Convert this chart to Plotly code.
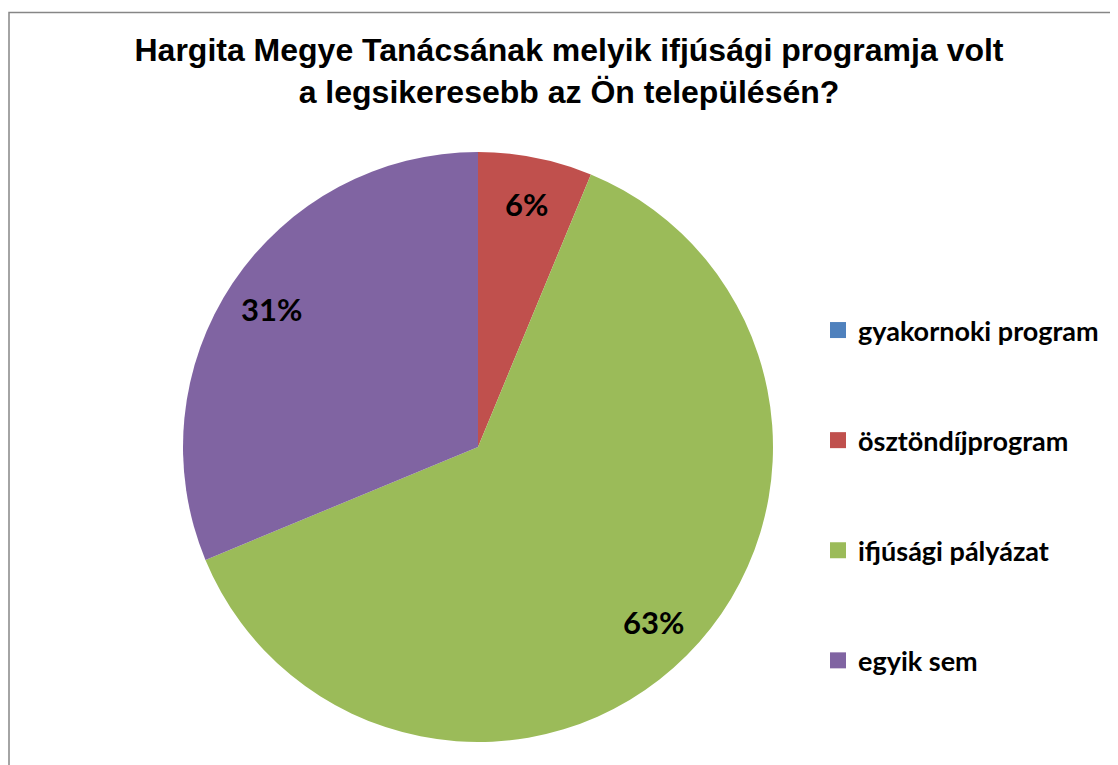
import math
import plotly.graph_objects as go

categories = ["gyakornoki program", "ösztöndíjprogram", "ifjúsági pályázat", "egyik sem"]
counts = [0, 2, 20, 10]
colors = ["#4F81BD", "#C0504D", "#9BBB59", "#8064A2"]
title_lines = ["Hargita Megye Tanácsának melyik ifjúsági programja volt",
               "a legsikeresebb az Ön településén?"]

# figure size (page body adds an 8px margin)
W, H = 1110, 757
# pie placement in pixels within figure
cx, cy, R = 470, 439, 295
label_r = 0.84  # radial position of percent labels as fraction of radius

fig = go.Figure()
fig.add_trace(go.Pie(
    labels=categories, values=counts, sort=False, direction="clockwise", rotation=0,
    marker=dict(colors=colors, line=dict(width=0)),
    textinfo="none",
    showlegend=False, hoverinfo="label+percent",
    domain=dict(x=[(cx - R) / W, (cx + R) / W], y=[1 - (cy + R) / H, 1 - (cy - R) / H]),
))
for c, col in zip(categories, colors):
    fig.add_trace(go.Scatter(
        x=[None], y=[None], mode="markers", name=c, legendgroup=c,
        marker=dict(symbol="square", size=16, color=col),
        showlegend=True, hoverinfo="skip",
    ))

# percent labels at slice mid-angles (Excel style)
total = sum(counts)
annotations = []
cum = 0.0
for v in counts:
    frac = v / total
    if v > 0:
        mid = (cum + frac / 2) * 2 * math.pi
        px = cx + label_r * R * math.sin(mid)
        py = cy - label_r * R * math.cos(mid)
        annotations.append(dict(
            x=px / W, y=1 - py / H, xref="paper", yref="paper",
            text=f"{math.floor(frac * 100 + 0.5)}%", showarrow=False,
            xanchor="center", yanchor="middle",
            font=dict(family="Lato", size=31, color="black", weight="bold"),
        ))
    cum += frac

fig.update_layout(
    width=W, height=H,
    margin=dict(l=0, r=0, t=0, b=0),
    paper_bgcolor="white", plot_bgcolor="white",
    xaxis=dict(visible=False), yaxis=dict(visible=False),
    title=dict(text="<br>".join(title_lines), x=561 / W, xanchor="center",
               y=1 - 53 / H, yanchor="middle", yref="container",
               font=dict(family="Liberation Sans", size=32, color="black", weight="bold")),
    legend=dict(x=810 / W, xanchor="left", y=1 - 298 / H, yanchor="top",
                font=dict(family="Lato", size=27, color="black", weight="bold"),
                tracegroupgap=72, itemsizing="trace", bgcolor="rgba(0,0,0,0)"),
    annotations=annotations,
    shapes=[dict(type="rect", xref="paper", yref="paper",
                 x0=1 / W, x1=1.05, y0=-0.05, y1=1 - 4.5 / H,
                 line=dict(color="#868686", width=1.5), fillcolor="rgba(0,0,0,0)")],
)
fig.write_html("out.html")
